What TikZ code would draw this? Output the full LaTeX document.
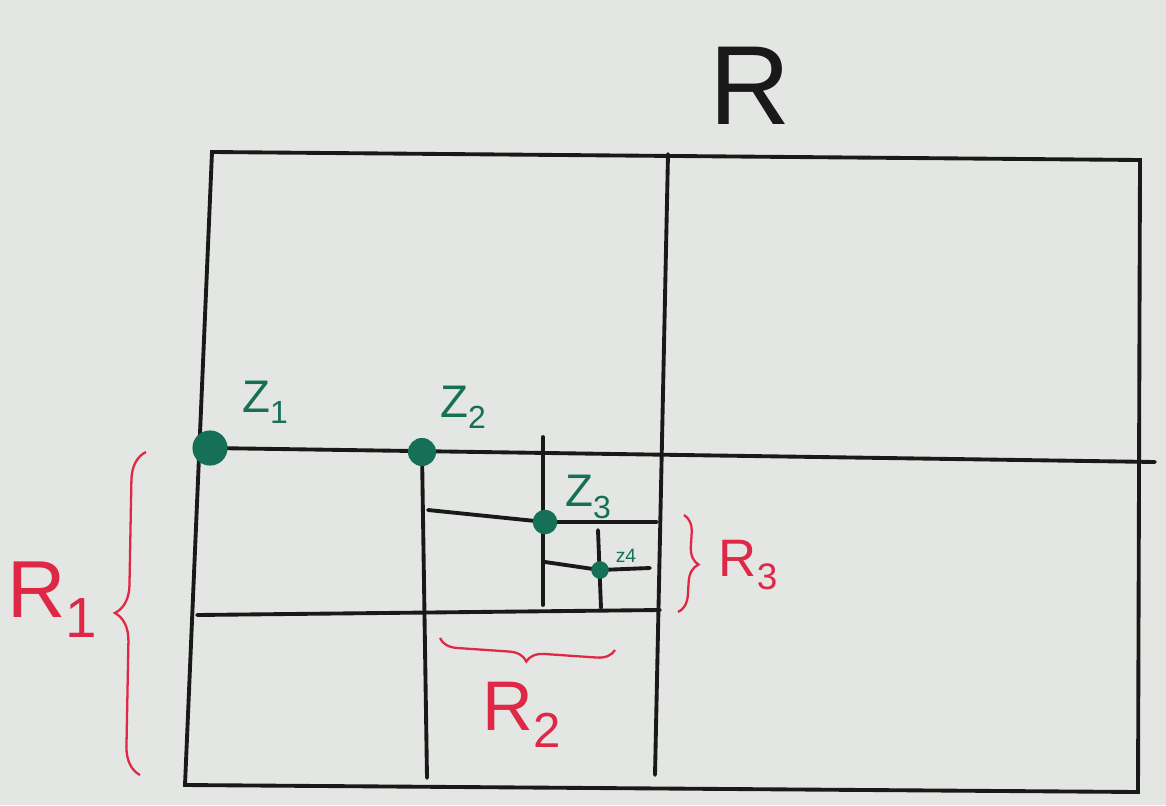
\documentclass[tikz,border=0pt]{standalone}
\usepackage{fontspec}
\setmainfont{Liberation Sans}
\usetikzlibrary{decorations.pathreplacing}
\definecolor{board}{RGB}{228,230,227}
\definecolor{ink}{RGB}{25,25,25}
\definecolor{teal}{RGB}{22,112,88}
\definecolor{redink}{RGB}{222,40,70}
\newcommand{\lowsub}[1]{\raisebox{-0.25em}{\scalebox{0.7}{#1}}}
\tikzset{
  grid line/.style={draw=ink,line width=2.2pt,line cap=round},
  pt/.style={circle,fill=teal,inner sep=0pt,minimum size=#1},
  zlab/.style={text=teal,font=\fontsize{26}{26}\selectfont},
  rlab/.style={text=redink},
  bracestyle/.style={draw=redink,line width=1.3pt,decorate,decoration={brace,amplitude=#1}}
}
\begin{document}
\begin{tikzpicture}[x=0.02cm,y=-0.02cm]
\fill[board] (0,0) rectangle (1166,805);
\useasboundingbox (0,0) rectangle (1166,805);
% outer frame
\coordinate (tl) at (212,152);
\coordinate (tr) at (1140,160);
\coordinate (br) at (1138,792);
\coordinate (bl) at (185,785);
\draw[grid line] (tl) -- (tr) -- (br) -- (bl) -- cycle;
% middle vertical
\coordinate (mt) at (668,154);
\coordinate (mb) at (655,775);
\draw[grid line] (mt) -- (mb);
% points
\coordinate (z1) at (210,448);
\coordinate (z2) at (422,452);
\coordinate (z3) at (545,522);
\coordinate (z4) at (600,570);
% long horizontal
\coordinate (hr) at (1155,462);
\draw[grid line] (z1) -- (hr);
% vertical from z2
\coordinate (v2b) at (427,778);
\draw[grid line] (z2) -- (v2b);
% horizontal at 612
\coordinate (h6l) at (197,615);
\coordinate (h6r) at (660,610);
\draw[grid line] (h6l) -- (h6r);
% vertical through z3
\coordinate (v3t) at (543,437);
\coordinate (v3b) at (543,605);
\draw[grid line] (v3t) -- (v3b);
% horizontal through z3
\coordinate (h3l) at (428,510);
\coordinate (h3r) at (657,522);
\draw[grid line] (h3l) -- (z3) -- (h3r);
% vertical through z4
\coordinate (v4t) at (598,530);
\coordinate (v4b) at (601,608);
\draw[grid line] (v4t) -- (v4b);
% horizontal through z4
\coordinate (h4l) at (545,562);
\coordinate (h4r) at (650,568);
\draw[grid line] (h4l) -- (z4) -- (h4r);
% dots
\node[pt=20pt] (d1) at (z1) {};
\node[pt=16pt] (d2) at (z2) {};
\node[pt=14pt] (d3) at (z3) {};
\node[pt=10pt] (d4) at (z4) {};
% labels
\node[font=\fontsize{64}{64}\selectfont,text=ink] (R) at (750,86) {R};
\node[zlab] (l1) at (265,402) {Z\lowsub{1}};
\node[zlab] (l2) at (463,407) {Z\lowsub{2}};
\node[zlab] (l3) at (588,497) {Z\lowsub{3}};
\node[text=teal,font=\fontsize{11}{11}\selectfont] (l4) at (626,556) {z4};
% braces
\draw[bracestyle=16pt] (140,775) -- (146,452);
\draw[bracestyle=10pt] (684,515) -- (678,612);
\draw[bracestyle=10pt] (615,650) -- (440,638);
\node[rlab,font=\fontsize{46}{46}\selectfont] (r1) at (52,600) {R\lowsub{1}};
\node[rlab,font=\fontsize{40}{40}\selectfont] (r2) at (522,715) {R\lowsub{2}};
\node[rlab,font=\fontsize{30}{30}\selectfont] (r3) at (748,565) {R\lowsub{3}};
\end{tikzpicture}
\end{document}
